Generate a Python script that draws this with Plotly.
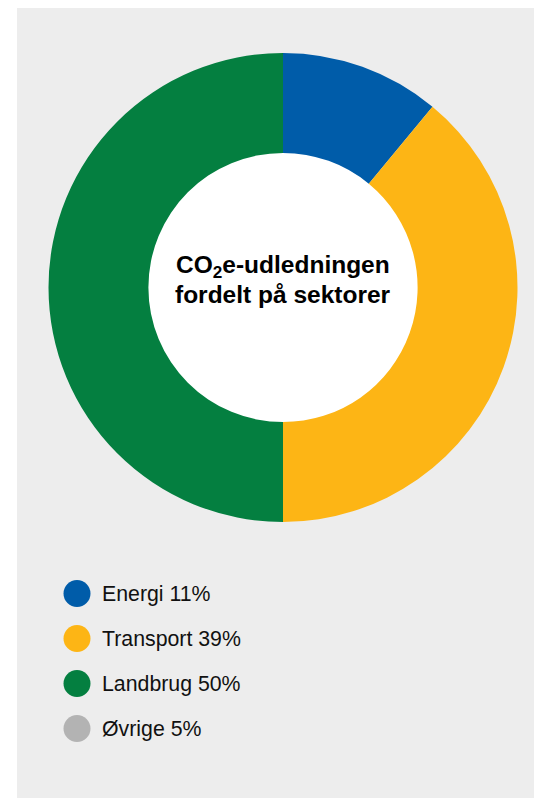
import plotly.graph_objects as go

# ---- data ----
sectors = ["Energi", "Transport", "Landbrug", "Øvrige"]
shares = [11, 39, 50, 5]
donut_sectors = ["Energi", "Transport", "Landbrug"]   # Øvrige is not drawn in the ring
title_lines = ["CO<sub>2</sub>e-udledningen", "fordelt på sektorer"]

# ---- styles ----
palette = {"Energi": "#005ca9", "Transport": "#fdb515", "Landbrug": "#047f40", "Øvrige": "#b3b3b3"}
W, H = 534, 798
FONT = "Liberation Sans, Arial, Helvetica, sans-serif"

donut_values = [shares[sectors.index(s)] for s in donut_sectors]

fig = go.Figure()

cx, cy, R, HOLE = 283, 287.5, 234.5, 0.574
fig.add_trace(go.Pie(
    labels=donut_sectors,
    values=donut_values,
    marker=dict(colors=[palette[s] for s in donut_sectors], line=dict(width=0)),
    hole=HOLE,
    sort=False,
    direction="clockwise",
    rotation=0,
    textinfo="none",
    hoverinfo="label+percent",
    showlegend=False,
    domain=dict(x=[(cx - R) / W, (cx + R) / W], y=[1 - (cy + R) / H, 1 - (cy - R) / H]),
))

# legend markers (pixel-space hidden axes)
leg_y0, leg_dy, leg_x = 593.5, 45, 77
leg_y = [leg_y0 + i * leg_dy for i in range(len(sectors))]
fig.add_trace(go.Scatter(
    x=[leg_x] * len(sectors),
    y=leg_y,
    mode="markers",
    marker=dict(size=27, color=[palette[s] for s in sectors], line=dict(width=0)),
    hoverinfo="skip",
    showlegend=False,
))

annotations = []
for s, v, y in zip(sectors, shares, leg_y):
    annotations.append(dict(
        x=100, y=y, xref="x", yref="y", text=f"{s} {v}%", showarrow=False,
        xanchor="left", yanchor="middle",
        font=dict(family=FONT, size=21.3, color="#111111"),
    ))

for line, y in zip(title_lines, [266.5, 294]):
    annotations.append(dict(
        x=cx, y=y, xref="x", yref="y", text=line, showarrow=False,
        xanchor="center", yanchor="middle",
        font=dict(family=FONT, size=24.5, color="#000000", weight="bold"),
    ))

r_in = R * HOLE
fig.update_layout(
    width=W, height=H,
    margin=dict(l=0, r=0, t=0, b=0),
    paper_bgcolor="white",
    plot_bgcolor="rgba(0,0,0,0)",
    xaxis=dict(range=[0, W], visible=False, domain=[0, 1], fixedrange=True),
    yaxis=dict(range=[H, 0], visible=False, domain=[0, 1], fixedrange=True),
    shapes=[
        dict(type="rect", xref="paper", yref="paper", x0=17 / W, x1=1, y0=0, y1=1 - 8 / H,
             fillcolor="#ededed", line=dict(width=0), layer="below"),
        dict(type="circle", xref="x", yref="y", x0=cx - r_in - 1, x1=cx + r_in + 1,
             y0=cy - r_in - 1, y1=cy + r_in + 1, fillcolor="white", line=dict(width=0), layer="below"),
    ],
    annotations=annotations,
)

fig.write_html("out.html", config={"displayModeBar": False},
               post_script="document.body.style.margin='0';")
